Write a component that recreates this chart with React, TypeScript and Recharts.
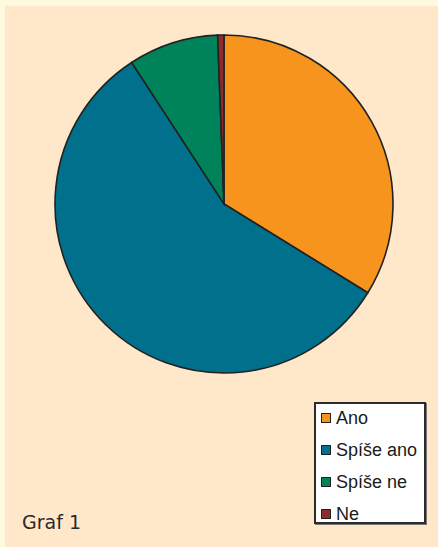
import React from "react";
import { PieChart, Pie, Cell, Legend } from "recharts";

const categories = ["Ano", "Spíše ano", "Spíše ne", "Ne"];
const values = [33.8, 57.0, 8.6, 0.6];
const colors = ["#F7941D", "#00708C", "#00825A", "#8C2B2B"];
const caption = "Graf 1";

const data = categories.map((name, i) => ({ name, value: values[i] }));

const renderLegend = () => {
  return (
    <div
      style={{
        width: 108,
        height: 118,
        background: "#ffffff",
        border: "2px solid #2b2b2b",
        boxShadow: "1px 1px 0 #777",
        boxSizing: "content-box",
        fontFamily: "'Liberation Sans', Arial, sans-serif",
        fontSize: 18,
        color: "#1a1a1a",
      }}
    >
      {categories.map((name, i) => (
        <div
          key={name}
          style={{ display: "flex", alignItems: "center", height: 32, marginTop: i === 0 ? -2 : 0, paddingLeft: 5 }}
        >
          <span
            style={{
              display: "inline-block",
              width: 8,
              height: 8,
              background: colors[i],
              border: "1.5px solid #222",
              marginRight: 5,
            }}
          />
          <span>{name}</span>
        </div>
      ))}
    </div>
  );
};

export default function App() {
  return (
    <div
      style={{
        position: "absolute",
        left: 0,
        top: 0,
        width: 438,
        height: 547,
        background: "#FFF9DF",
        overflow: "hidden",
      }}
    >
      <div
        style={{
          position: "absolute",
          left: 5,
          top: 6,
          width: 433,
          height: 541,
          background: "#FFE8C9",
        }}
      />
      <div style={{ position: "absolute", left: 0, top: 0 }}>
        <PieChart width={438} height={547} margin={{ top: 0, right: 0, bottom: 0, left: 0 }}>
          <Pie
            data={data}
            dataKey="value"
            nameKey="name"
            cx={224}
            cy={204}
            outerRadius={169}
            startAngle={90}
            endAngle={-270}
            stroke="#222222"
            strokeWidth={1.6}
            isAnimationActive={false}
          >
            {data.map((d, i) => (
              <Cell key={d.name} fill={colors[i]} />
            ))}
          </Pie>
          <Legend
            layout="vertical"
            content={renderLegend}
            wrapperStyle={{ position: "absolute", left: 314, top: 402, width: "auto" }}
          />
        </PieChart>
      </div>
      <div
        style={{
          position: "absolute",
          left: 22,
          top: 511,
          fontFamily: "'DejaVu Sans', 'Noto Sans', sans-serif",
          fontSize: 19,
          color: "#2a2a2a",
        }}
      >
        {caption}
      </div>
    </div>
  );
}
